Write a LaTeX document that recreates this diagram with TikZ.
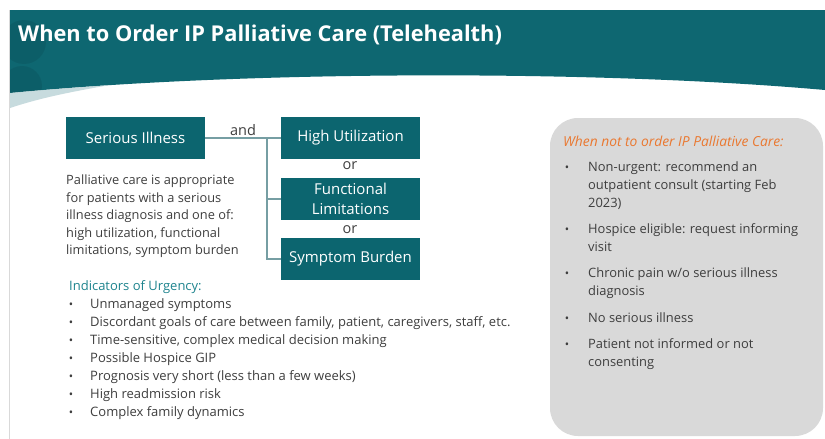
\documentclass[tikz,border=0pt]{standalone}
\usepackage{fontspec}
\setmainfont{Open Sans}
\definecolor{banner}{RGB}{14,103,113}
\definecolor{tealbox}{RGB}{12,101,111}
\definecolor{linkc}{RGB}{118,158,163}
\definecolor{textgray}{RGB}{62,62,62}
\definecolor{urgteal}{RGB}{30,132,142}
\definecolor{notorange}{RGB}{234,120,48}
\definecolor{panel}{RGB}{217,217,217}
\definecolor{pale}{RGB}{176,204,208}
\tikzset{
  box/.style={fill=tealbox, text=white, minimum width=139pt, minimum height=42pt,
    inner sep=2pt, align=center, font=\fontsize{15}{20}\selectfont},
  link/.style={draw=linkc, line width=1.3pt},
  word/.style={text=textgray, inner sep=0pt, font=\fontsize{14.5}{16}\selectfont},
  body/.style={text=textgray, inner sep=0pt, align=left, font=\fontsize{12.8}{17.5}\selectfont},
  item/.style={text=textgray, inner sep=0pt, align=left, font=\fontsize{13}{18}\selectfont},
  side/.style={text=textgray, inner sep=0pt, align=left, font=\fontsize{12.9}{18}\selectfont},
  dot/.style={text=textgray, inner sep=0pt, anchor=base, font=\fontsize{11.5}{13}\selectfont}
}
\begin{document}
\begin{tikzpicture}[x=1pt,y=-1pt]
  \useasboundingbox (0,0) rectangle (825,439);
  \fill[white] (0,0) rectangle (825,439);
  \draw[black!15, line width=0.6pt] (9,10) -- (9,439);

  % Header band
  \begin{scope}
    \clip (10,10) -- (825,10) -- (825,90) .. controls (600,70) and (250,70) .. (10,93) -- cycle;
    \fill[banner] (10,10) rectangle (825,100);
    \fill[black, opacity=0.08] (24,42) circle (22);
    \fill[black, opacity=0.08] (22,86) circle (20);
  \end{scope}
  \fill[pale, opacity=0.7] (10,93) .. controls (40,90) and (70,88) .. (110,85)
    .. controls (70,92) and (40,98) .. (10,108) -- cycle;
  \node[anchor=west, text=white, inner sep=0pt, font=\fontsize{21.8}{26}\bfseries\selectfont]
    (title) at (18,35) {When to Order IP Palliative Care (Telehealth)};

  % Decision boxes
  \node[box] (si) at (135.5,137.5) {Serious Illness};
  \node[box] (hu) at (350.5,138) {High Utilization};
  \node[box] (fl) at (350.5,199) {Functional\\Limitations};
  \node[box] (sb) at (350.5,259) {Symptom Burden};

  \node[word] (or1) at (350,166) {or};
  \node[word] (or2) at (350,230) {or};

  % Connectors
  \coordinate (j) at (267,138);
  \draw[link] (si.east |- j) -- node[word, above=2pt] (and) {and} (hu.west |- j);
  \draw[link] (j) |- (fl.west);
  \draw[link] (j) |- (sb.west);

  % Explanation
  \node[body, anchor=north west] (expl) at (66,175)
    {Palliative care is appropriate\\for patients with a serious\\illness diagnosis and one of:\\high utilization, functional\\limitations, symptom burden};

  % Indicators of urgency
  \node[anchor=west, inner sep=0pt, text=urgteal, font=\fontsize{13}{15}\selectfont]
    (urg) at (69,287) {Indicators of Urgency:};
  \foreach \t [count=\i] in {Unmanaged symptoms,
      {Discordant goals of care between family, patient, caregivers, staff, etc.},
      {Time-sensitive, complex medical decision making},
      Possible Hospice GIP,
      Prognosis very short (less than a few weeks),
      High readmission risk,
      Complex family dynamics} {
    \node[dot] (ud-\i) at (71,{308.5+18*(\i-1)}) {\textbullet};
    \node[item, anchor=base west] (ui-\i) at (90,{308.5+18*(\i-1)}) {\t};
  }

  % When not to order
  \node[fill=panel, rounded corners=28pt, minimum width=273pt, minimum height=318pt,
    inner sep=0pt] (panel) at (686.5,277) {};
  \node[anchor=west, inner sep=0pt, text=notorange, font=\fontsize{13.8}{15}\itshape\selectfont]
    (nothead) at (563,141) {When not to order IP Palliative Care:};
  \foreach \y/\t [count=\i] in {167/{Non-urgent: recommend an\\outpatient consult (starting Feb\\2023)},
      229/{Hospice eligible: request informing\\visit},
      273/{Chronic pain w/o serious illness\\diagnosis},
      318/{No serious illness},
      344/{Patient not informed or not\\consenting}} {
    \node[dot] (nd-\i) at (567,\y+4.5) {\textbullet};
    \node[side, anchor=north west] (ni-\i) at (588,\y-6) {\t};
  }
\end{tikzpicture}
\end{document}
